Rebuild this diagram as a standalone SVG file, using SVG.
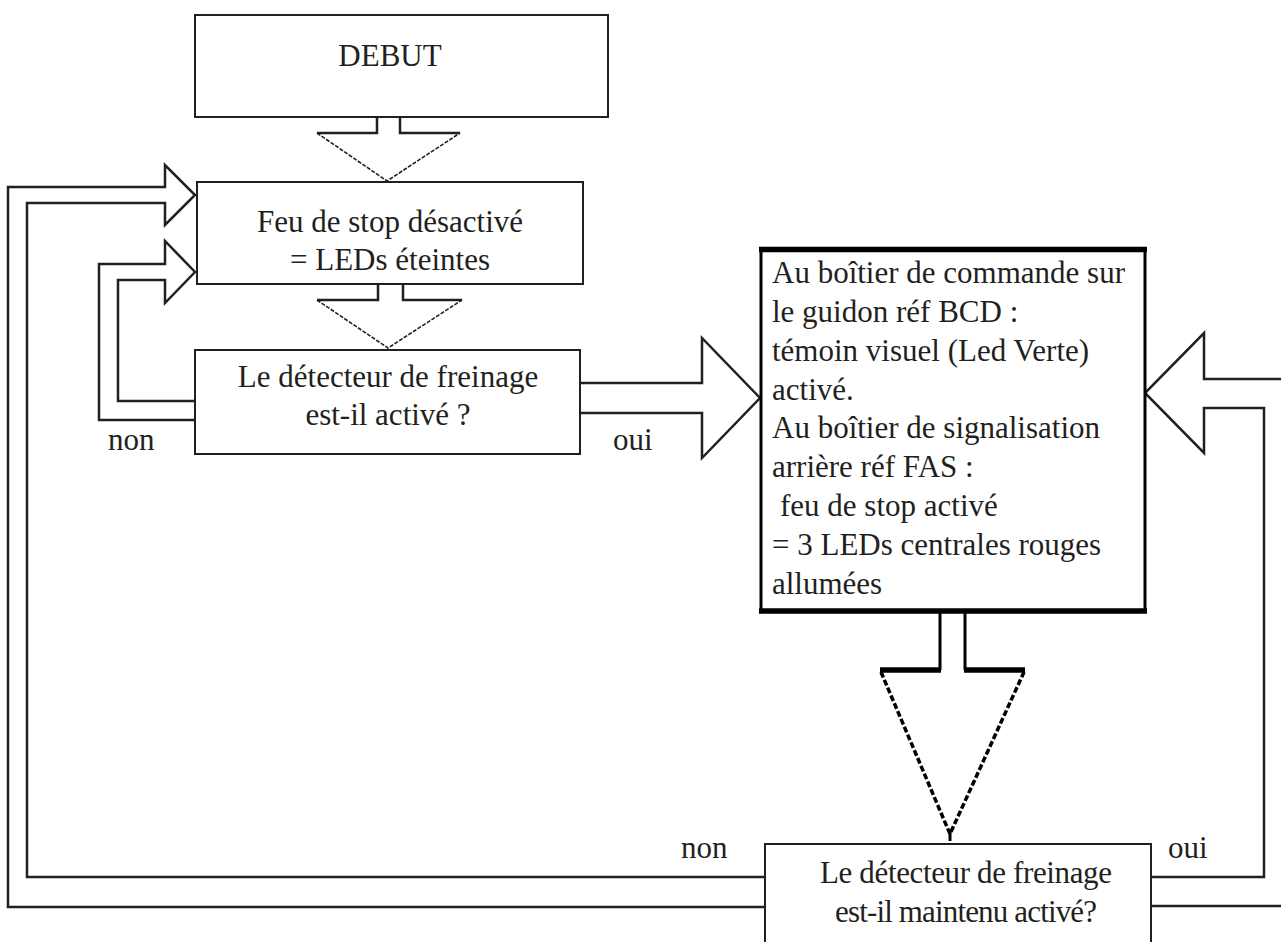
<svg xmlns="http://www.w3.org/2000/svg" width="1281" height="942" viewBox="0 0 1281 942">
<style>
.box{fill:#fff;stroke:#231f20;stroke-width:2}
.ln{fill:none;stroke:#231f20;stroke-width:2.5;stroke-linejoin:miter}
.dl{fill:none;stroke:#231f20;stroke-width:1.6;stroke-dasharray:4 1.5}
.bd{fill:none;stroke:#000;stroke-width:3.5;stroke-dasharray:6 2.5}
.thick{fill:none;stroke:#000;stroke-width:5.5}
.mid{fill:none;stroke:#000;stroke-width:3}
.t{font-family:"Liberation Serif","Times New Roman",serif;font-size:31px;fill:#231f20}
.c{text-anchor:middle}
</style>
<rect width="1281" height="942" fill="#fff"/>
<g id="connectors">
  <path class="ln" d="M377,117 V133 H317 M400,117 V133 H460"/>
  <path class="dl" d="M317,133 L387,181 L460,133"/>
  <path class="ln" d="M378,284 V300 H317 M403,284 V300 H462"/>
  <path class="dl" d="M317,300 L388,348 L462,300"/>
  <path class="ln" d="M580,383 H702 V338 L760,398 L702,458 V413 H580"/>
  <path class="ln" d="M765,907 H8 V187 H165 V165 L195,195 L165,225 V203 H27 V877 H765"/>
  <path class="ln" d="M195,420 H99 V264 H165 V241 L195,272 L165,303 V280 H118 V401 H195"/>
  <path class="ln" d="M1151,906 H1290 M1290,379 H1204 V333 L1145,393 L1204,453 V408 H1264 V877 H1151"/>
  <path class="mid" d="M940,613 V670 M965,613 V670"/>
  <path class="thick" d="M880,670 H941 M964,670 H1025"/>
  <path class="bd" d="M881,672 L950,834 L1024,672"/>
  <path class="mid" d="M950,830 V841"/>
</g>
<g id="debut">
  <rect class="box" x="195" y="15" width="413" height="102"/>
  <text class="t c" x="390" y="66">DEBUT</text>
</g>
<g id="feu-desactive">
  <rect class="box" x="197" y="182" width="386" height="102"/>
  <text class="t c" x="390" y="232">Feu de stop désactivé</text>
  <text class="t c" x="390" y="270">= LEDs éteintes</text>
</g>
<g id="detecteur-1">
  <rect class="box" x="195" y="350" width="385" height="104"/>
  <text class="t c" x="388" y="387">Le détecteur de freinage</text>
  <text class="t c" x="388" y="425">est-il activé ?</text>
  <text class="t" x="108" y="450">non</text>
  <text class="t" x="613" y="450">oui</text>
</g>
<g id="action">
  <rect x="761" y="249" width="384" height="362" fill="#fff" stroke="#000" stroke-width="3"/>
  <path class="thick" d="M759,249.5 H1147 M759,611 H1147"/>
  <text class="t" x="772" y="283">Au boîtier de commande sur</text>
  <text class="t" x="772" y="322">le guidon réf BCD :</text>
  <text class="t" x="772" y="361">témoin visuel (Led Verte)</text>
  <text class="t" x="772" y="400">activé.</text>
  <text class="t" x="772" y="438">Au boîtier de signalisation</text>
  <text class="t" x="772" y="477">arrière réf FAS :</text>
  <text class="t" x="780" y="516">feu de stop activé</text>
  <text class="t" x="772" y="555">= 3 LEDs centrales rouges</text>
  <text class="t" x="772" y="594">allumées</text>
</g>
<g id="detecteur-2">
  <rect class="box" x="765" y="844" width="386" height="120"/>
  <text class="t c" x="966" y="883" textLength="292" lengthAdjust="spacing">Le détecteur de freinage</text>
  <text class="t c" x="966" y="922" textLength="262" lengthAdjust="spacing">est-il maintenu activé?</text>
  <text class="t" x="681" y="858">non</text>
  <text class="t" x="1168" y="858">oui</text>
</g>
</svg>
